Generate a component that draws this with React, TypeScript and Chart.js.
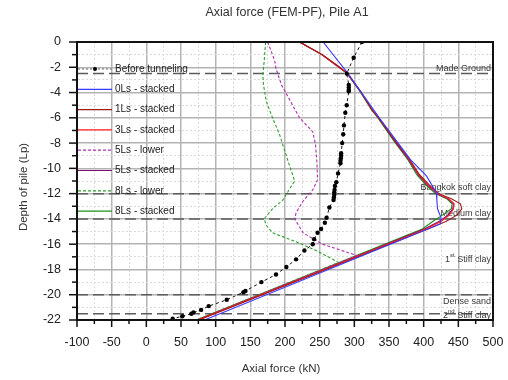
import React, { useEffect, useRef } from "react";
import { Chart, registerables } from "chart.js";

Chart.register(...registerables);

const FONT = '"Liberation Sans", Arial, sans-serif';

const TITLE = "Axial force (FEM-PF), Pile A1";
const X_TITLE = "Axial force (kN)";
const Y_TITLE = "Depth of pile (Lp)";

const seriesNames = [
  "Before tunneling",
  "0Ls - stacked",
  "1Ls - stacked",
  "3Ls - stacked",
  "5Ls - lower",
  "5Ls - stacked",
  "8Ls - lower",
  "8Ls - stacked",
];

// Before tunneling
const beforeDepth = [0, -1.25, -2.5, -3.4, -3.6, -3.8, -3.9, -5.0, -5.6, -6.6, -7.3, -8.0, -8.8, -9.0, -9.2, -9.4, -9.6, -10.4, -11.1, -11.4, -11.7, -11.9, -12.1, -12.3, -12.5, -13.1, -13.9, -14.3, -14.8, -15.1, -15.6, -16.0, -16.5, -17.2, -17.8, -18.4, -19.0, -19.7, -19.8, -20.4, -20.9, -21.2, -21.4, -21.5, -21.7, -21.9];
const beforeForce = [311, 299, 289, 292, 292, 292, 292, 289, 287, 285, 284, 282.5, 281, 281, 280.5, 280, 280, 276.5, 274, 272, 271.5, 271, 271, 270.5, 270, 264, 260, 257.5, 252, 247, 242, 240, 228, 216, 202, 187, 166, 143, 140, 116, 90, 79, 68, 65, 52, 38];

// 0Ls - stacked
const ls0Depth = [0, -2.5, -6, -9.3, -10.6, -11.9, -12.5, -13.2, -13.9, -14.4, -22];
const ls0Force = [255, 291, 336, 381, 404, 418, 419, 420, 425, 424, 84];

// shared depths of the stacked runs
const stackDepth = [0, -1, -2, -2.5, -4, -5.4, -6, -7.9, -9.3, -10.5, -11.3, -12, -12.4, -12.8, -13.2, -13.7, -14.2, -14.8, -22];
const ls1Force = [221, 254, 279, 290, 310, 326, 335, 360, 380, 394, 408, 422, 440, 453, 455, 448, 432, 406, 76];
const ls3Force = [221, 253, 278, 290, 310, 326, 335, 360, 379, 393, 406, 420, 436, 444, 443, 437, 425, 403, 74];
const ls5StackForce = [221, 253, 278, 290, 310, 326, 335, 359, 378, 392, 405, 419, 435, 443, 442, 435, 422, 401, 74];
const ls8StackForce = [221, 253, 278, 290, 309, 325, 334, 358, 377, 390, 403, 417, 433, 441, 440, 427, 413, 398, 72];

// 5Ls - lower
const ls5LowDepth = [0, -1.45, -2.1, -3.4, -6, -7.1, -8.1, -9.5, -10.9, -11.7, -12.6, -13.5, -14, -15.1, -16, -16.7, -16.9, -22];
const ls5LowForce = [175, 185, 187, 195, 221, 240, 244, 246, 247, 240, 226, 216, 214, 226, 254, 293, 304, 74];

// 8Ls - lower
const ls8LowDepth = [0, -1.5, -2.6, -3.4, -4.7, -6, -7.3, -8.5, -9.7, -11, -11.6, -12.5, -13.2, -14, -14.5, -15.1, -15.7, -16.5, -17.2, -17.45, -22];
const ls8LowForce = [172, 170, 168, 169, 173, 182, 192, 199, 206, 214, 207, 197, 182, 170, 173, 182, 211, 245, 269, 277, 72];

// soil layers
const layerDepths = [-2.5, -12, -14, -20, -21.5];
const layerLabels: string[][] = [
  ["Made Ground"],
  ["Bangkok soft clay"],
  ["Medium clay"],
  ["1", "st", " Stiff clay"],
  ["Dense sand"],
  ["2", "nd", " Stiff clay"],
];
const layerLabelDepths = [-2.13, -11.55, -13.55, -17.2, -20.5, -21.65];

const X_MIN = -100;
const X_MAX = 500;
const Y_MIN = -22;
const Y_MAX = 0;

function pts(depth: number[], force: number[]) {
  return depth.map((d, i) => ({ x: force[i], y: d }));
}

const decor = {
  id: "decor",
  beforeDatasetsDraw(chart: any) {
    const { ctx, chartArea: a, scales } = chart;
    const y = scales.y;
    ctx.save();
    ctx.beginPath();
    ctx.rect(a.left, a.top, a.right - a.left, a.bottom - a.top);
    ctx.clip();
    ctx.strokeStyle = "#5c5c5c";
    ctx.lineWidth = 1.5;
    ctx.setLineDash([11, 5]);
    layerDepths.forEach((d) => {
      const py = y.getPixelForValue(d);
      ctx.beginPath();
      ctx.moveTo(a.left, py);
      ctx.lineTo(a.right, py);
      ctx.stroke();
    });
    ctx.setLineDash([]);
    ctx.fillStyle = "#3a3a3a";
    ctx.textBaseline = "middle";
    ctx.textAlign = "left";
    layerLabels.forEach((parts, i) => {
      const py = y.getPixelForValue(layerLabelDepths[i]);
      let xr = a.right - 2;
      for (let k = parts.length - 1; k >= 0; k--) {
        const sup = parts.length === 3 && k === 1;
        ctx.font = (sup ? "6px " : "9px ") + FONT;
        const w = ctx.measureText(parts[k]).width;
        ctx.fillText(parts[k], xr - w, sup ? py - 4 : py);
        xr -= w;
      }
    });
    ctx.restore();
  },
  afterDraw(chart: any) {
    const { ctx, chartArea: a, scales } = chart;
    const x = scales.x;
    const y = scales.y;
    ctx.save();
    // frame
    ctx.strokeStyle = "#111";
    ctx.lineWidth = 2;
    ctx.strokeRect(a.left, a.top, a.right - a.left, a.bottom - a.top);
    // tick marks
    ctx.lineWidth = 1.5;
    x.ticks.forEach((t: any) => {
      const px = x.getPixelForValue(t.value);
      const len = t.value % 50 === 0 ? 7 : 4;
      ctx.beginPath();
      ctx.moveTo(px, a.bottom);
      ctx.lineTo(px, a.bottom + len);
      ctx.stroke();
    });
    y.ticks.forEach((t: any) => {
      const py = y.getPixelForValue(t.value);
      const len = t.value % 2 === 0 ? 8 : 5;
      ctx.beginPath();
      ctx.moveTo(a.left, py);
      ctx.lineTo(a.left - len, py);
      ctx.stroke();
    });
    // legend
    const ds = chart.data.datasets;
    ctx.textBaseline = "middle";
    ctx.textAlign = "left";
    ds.forEach((d: any, i: number) => {
      const py = a.top + 27 + i * 20.3;
      const x0 = a.left + 1;
      const x1 = a.left + 35;
      ctx.save();
      ctx.strokeStyle = i === 0 ? "#808080" : d.borderColor;
      ctx.lineWidth = 1.2;
      ctx.setLineDash(i === 0 ? [2, 2] : d.borderDash || []);
      ctx.beginPath();
      ctx.moveTo(x0, py);
      ctx.lineTo(x1, py);
      ctx.stroke();
      ctx.restore();
      if (d.pointRadius > 0) {
        ctx.fillStyle = "#000";
        ctx.beginPath();
        ctx.arc((x0 + x1) / 2, py, 2, 0, Math.PI * 2);
        ctx.fill();
      }
      ctx.fillStyle = "#222";
      ctx.font = "10px " + FONT;
      ctx.fillText(d.label, a.left + 38, py);
    });
    // titles
    ctx.fillStyle = "#333";
    ctx.textAlign = "center";
    ctx.textBaseline = "middle";
    ctx.font = "12.5px " + FONT;
    ctx.fillText(TITLE, 287, 13);
    ctx.font = "11.5px " + FONT;
    ctx.fillText(X_TITLE, 281, 369);
    ctx.translate(24, 187);
    ctx.rotate(-Math.PI / 2);
    ctx.fillText(Y_TITLE, 0, 0);
    ctx.restore();
  },
};

export default function App() {
  const ref = useRef<HTMLCanvasElement | null>(null);
  useEffect(() => {
    if (!ref.current) return;
    const line = (label: string, data: any[], color: string, dash: number[] = [], width = 1.1) => ({
      label,
      data,
      showLine: true,
      borderColor: color,
      backgroundColor: color,
      borderWidth: width,
      borderDash: dash,
      pointRadius: 0,
      pointHoverRadius: 0,
      tension: 0,
    });
    const chart = new Chart(ref.current, {
      type: "scatter",
      data: {
        datasets: [
          {
            label: seriesNames[0],
            data: pts(beforeDepth, beforeForce),
            showLine: true,
            borderColor: "#111",
            backgroundColor: "#000",
            borderWidth: 1,
            borderDash: [3, 3],
            pointRadius: 2.2,
            pointBorderWidth: 0,
            pointBackgroundColor: "#000",
            tension: 0,
          },
          line(seriesNames[1], pts(ls0Depth, ls0Force), "#3b3bff"),
          line(seriesNames[2], pts(stackDepth, ls1Force), "#a01c1c"),
          line(seriesNames[3], pts(stackDepth, ls3Force), "#ff1a1a"),
          line(seriesNames[4], pts(ls5LowDepth, ls5LowForce), "#b02fb0", [3, 2]),
          line(seriesNames[5], pts(stackDepth, ls5StackForce), "#7a0a7a"),
          line(seriesNames[6], pts(ls8LowDepth, ls8LowForce), "#2f9e2f", [3, 2]),
          line(seriesNames[7], pts(stackDepth, ls8StackForce), "#1f8f1f"),
        ] as any,
      },
      options: {
        responsive: false,
        animation: false,
        layout: { padding: { top: 42, right: 15, bottom: 0, left: 0 } },
        plugins: {
          legend: { display: false },
          tooltip: { enabled: false },
          title: { display: false },
        },
        scales: {
          x: {
            type: "linear",
            min: X_MIN,
            max: X_MAX,
            ticks: {
              stepSize: 25,
              autoSkip: false,
              maxRotation: 0,
              padding: 0,
              color: "#222",
              font: { family: FONT, size: 12.5 },
              callback: (v: any) => (Number(v) % 50 === 0 ? String(v) : ""),
            },
            grid: {
              drawTicks: true,
              tickLength: 15,
              tickColor: "rgba(0,0,0,0)",
              color: (c: any) => (c.tick && c.tick.value % 50 === 0 ? "#b3b3b3" : "#dadada"),
              lineWidth: (c: any) => (c.tick && c.tick.value % 50 === 0 ? 1.5 : 1),
            },
            border: {
              color: "#000",
              width: 2,
              dash: (c: any) => (c.tick && c.tick.value % 50 !== 0 ? [2, 2] : []),
            },
            afterFit: (s: any) => {
              s.height = 60;
            },
          },
          y: {
            type: "linear",
            min: Y_MIN,
            max: Y_MAX,
            ticks: {
              stepSize: 1,
              autoSkip: false,
              padding: 0,
              color: "#222",
              font: { family: FONT, size: 12.5 },
              callback: (v: any) => (Number(v) % 2 === 0 ? String(v) : ""),
            },
            grid: {
              drawTicks: true,
              tickLength: 16,
              tickColor: "rgba(0,0,0,0)",
              color: (c: any) => (c.tick && c.tick.value % 2 === 0 ? "#b3b3b3" : "#dadada"),
              lineWidth: (c: any) => (c.tick && c.tick.value % 2 === 0 ? 1.5 : 1),
            },
            border: {
              color: "#000",
              width: 2,
              dash: (c: any) => (c.tick && c.tick.value % 2 !== 0 ? [2, 2] : []),
            },
            afterFit: (s: any) => {
              s.width = 77;
            },
          },
        },
      } as any,
      plugins: [decor],
    });
    return () => chart.destroy();
  }, []);
  return (
    <div style={{ position: "absolute", left: 0, top: 0, width: 508, height: 380, background: "#fff" }}>
      <canvas ref={ref} width={508} height={380} style={{ display: "block" }} />
    </div>
  );
}
